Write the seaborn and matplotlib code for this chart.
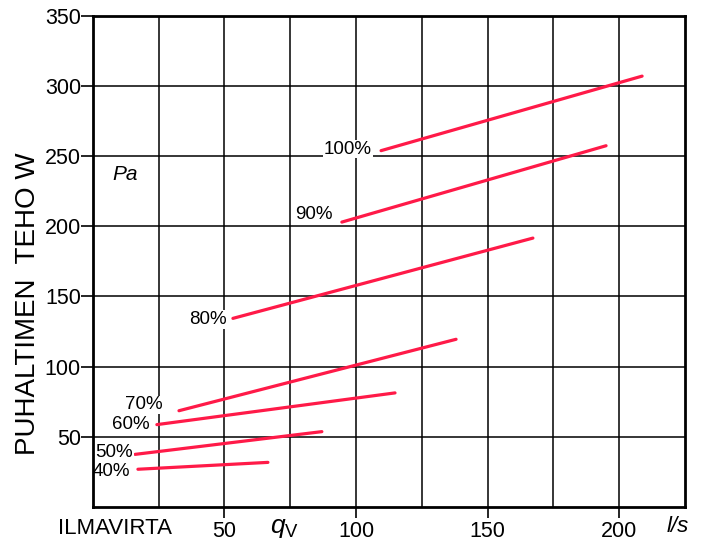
import numpy as np
import pandas as pd
import matplotlib
matplotlib.use("Agg")
import matplotlib.pyplot as plt
import seaborn as sns

####################################################################
## DATA
####################################################################
levels = ["100%", "90%", "80%", "70%", "60%", "50%", "40%"]
q_start = [109.5, 94.6, 53.2, 32.7, 24.3, 16.0, 17.1]   # l/s
q_end = [208.7, 195.0, 167.2, 138.0, 114.8, 87.0, 66.5]
p_start = [253.9, 203.0, 134.4, 68.6, 58.7, 37.5, 26.9]  # W
p_end = [307.0, 257.4, 191.6, 119.5, 81.3, 53.7, 31.8]

# label anchor (right edge of the text, vertical centre)
label_q = [106.0, 91.2, 51.0, 26.6, 21.7, 15.2, 14.1]
label_p = [255.0, 208.6, 133.7, 72.8, 58.7, 38.9, 25.5]

x_major = [50, 100, 150, 200]
x_minor = [25, 75, 125, 175]
y_ticks = [50, 100, 150, 200, 250, 300, 350]

rows = []
for i, lev in enumerate(levels):
    rows.append({"level": lev, "q": q_start[i], "P": p_start[i]})
    rows.append({"level": lev, "q": q_end[i], "P": p_end[i]})
df = pd.DataFrame(rows)

####################################################################
## PLOT
####################################################################
sns.set_theme(style="white")
plt.rcParams['font.family'] = ['Liberation Sans', 'DejaVu Sans']
plt.rcParams['text.color'] = 'black'
plt.rcParams['axes.labelcolor'] = 'black'
plt.rcParams['xtick.color'] = 'black'
plt.rcParams['ytick.color'] = 'black'
plt.rcParams['mathtext.fontset'] = 'custom'
plt.rcParams['mathtext.it'] = 'Liberation Sans:italic'
plt.rcParams['mathtext.rm'] = 'Liberation Sans'

fig = plt.figure(figsize=(7.04, 5.44), dpi=100)
ax = fig.add_axes([0.132, 0.068, 0.841, 0.903])

red = "#ff1a48"
sns.lineplot(data=df, x="q", y="P", units="level", estimator=None,
             color=red, linewidth=2.3, ax=ax, legend=False)

# labels sit under the spines (zorder 2.5) but over the grid
for lev, lq, lp in zip(levels, label_q, label_p):
    ax.text(lq, lp, lev, ha="right", va="center", fontsize=13.5,
            color="black", zorder=2.4,
            bbox=dict(facecolor="white", edgecolor="none", pad=0.5))

ax.text(12.2, 237, "Pa", fontsize=15, style="italic", ha="center", va="center")

ax.set_xlim(0, 225)
ax.set_ylim(0, 350)
ax.set_xticks(x_major)
ax.set_xticks(x_minor, minor=True)
ax.set_yticks(y_ticks)
ax.grid(True, which="both", color="black", linewidth=1.1)
ax.set_axisbelow(True)

ax.tick_params(axis="x", which="major", direction="out", length=8, width=1.2,
               color="black", labelsize=15.5, pad=2, bottom=True)
ax.tick_params(axis="x", which="minor", length=0)
ax.tick_params(axis="y", direction="out", length=8.6, width=1.2,
               color="black", labelsize=15.5, pad=0, left=True)

for s in ax.spines.values():
    s.set_color("black")
    s.set_linewidth(2)

ax.set_xlabel("")
ax.set_ylabel("PUHALTIMEN  TEHO W", fontsize=20)
ax.yaxis.set_label_coords(-0.088, 0.413)

fig.text(115 / 704, 1 - 528 / 544, "ILMAVIRTA", fontsize=16, ha="center", va="center")
fig.text(284 / 704, 1 - 528 / 544, r"$q_{\mathrm{V}}$", fontsize=19, ha="center", va="center")
fig.text(678 / 704, 1 - 526 / 544, "l/s", fontsize=16, style="italic", ha="center", va="center")

fig.savefig("out.png", dpi=100)
